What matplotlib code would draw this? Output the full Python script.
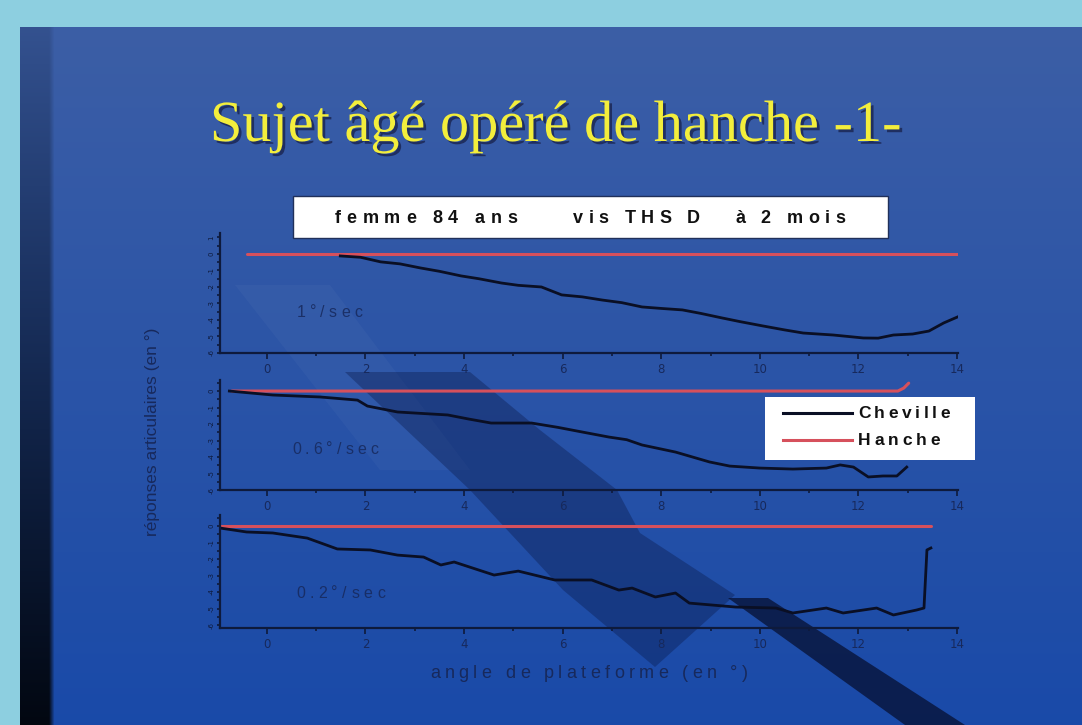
import numpy as np
import matplotlib
matplotlib.use("Agg")
import matplotlib.pyplot as plt
from matplotlib.patches import Polygon, Rectangle
from matplotlib.font_manager import FontProperties
import matplotlib.patheffects as pe

W, H = 1082, 725

# textes
title = "Sujet âgé opéré de hanche -1-"
header_parts = ["femme 84 ans", "vis THS D", "à 2 mois"]
speeds = ["1°/sec", "0.6°/sec", "0.2°/sec"]
xlabel = "angle de plateforme (en °)"
ylabel = "réponses articulaires (en °)"
legend_labels = ["Cheville", "Hanche"]
x_ticks = [0, 2, 4, 6, 8, 10, 12, 14]

# 1°/sec
cheville_x_1 = [1.49, 1.9, 2.31, 2.7, 3.12, 3.5, 3.94, 4.3, 4.76, 5.1, 5.57, 5.98, 6.4, 6.8, 7.2, 7.61,
                8.0, 8.43, 8.8, 9.24, 9.6, 10.06, 10.5, 10.88, 11.49, 12.1, 12.4, 12.71, 13.1, 13.43, 13.73, 14.1]
cheville_y_1 = [-0.12, -0.2, -0.48, -0.6, -0.85, -1.05, -1.33, -1.5, -1.76, -1.9, -2.0, -2.48, -2.6, -2.79, -2.95, -3.21,
                -3.3, -3.39, -3.6, -3.88, -4.1, -4.36, -4.6, -4.79, -4.91, -5.09, -5.1, -4.91, -4.85, -4.67, -4.18, -3.7]
hanche_x_1 = [-0.4, 14.05]
hanche_y_1 = [0.0, 0.0]

# 0.6°/sec
cheville_x_2 = [-0.76, 0.12, 1.08, 1.84, 2.04, 2.65, 3.1, 3.67, 4.1, 4.55, 5.37, 5.9, 6.39, 6.94, 7.3, 7.61,
                8.29, 8.98, 9.39, 10.0, 10.67, 11.35, 11.63, 11.9, 12.2, 12.5, 12.78, 12.98]
cheville_y_2 = [0.0, -0.24, -0.36, -0.55, -0.91, -1.27, -1.35, -1.45, -1.7, -1.94, -1.94, -2.2, -2.48, -2.79, -2.95, -3.27,
                -3.7, -4.3, -4.55, -4.67, -4.73, -4.67, -4.48, -4.61, -5.21, -5.15, -5.15, -4.61]
hanche_x_2 = [-0.71, 12.8, 12.92, 13.02]
hanche_y_2 = [0.0, 0.0, 0.18, 0.48]

# 0.2°/sec
cheville_x_3 = [-0.95, -0.41, 0.12, 0.82, 1.43, 2.1, 2.65, 3.18, 3.53, 3.8, 4.61, 5.1, 5.84, 6.59, 7.14, 7.41,
                7.88, 8.29, 8.57, 9.51, 10.33, 10.67, 11.35, 11.69, 12.37, 12.71, 13.18, 13.33, 13.39, 13.47]
cheville_y_3 = [-0.12, -0.36, -0.42, -0.73, -1.39, -1.45, -1.76, -1.88, -2.36, -2.18, -2.97, -2.73, -3.27, -3.27, -3.88, -3.76,
                -4.3, -4.06, -4.67, -4.91, -4.97, -5.27, -4.97, -5.27, -4.97, -5.39, -5.09, -4.97, -1.45, -1.33]
hanche_x_3 = [-0.95, 13.47]
hanche_y_3 = [0.0, 0.0]

cheville = [(cheville_x_1, cheville_y_1), (cheville_x_2, cheville_y_2), (cheville_x_3, cheville_y_3)]
hanche = [(hanche_x_1, hanche_y_1), (hanche_x_2, hanche_y_2), (hanche_x_3, hanche_y_3)]

# cadres des panneaux en pixels (gauche, haut, droite, bas) et limites y
panels = [(220, 233, 958, 353), (220, 380, 958, 490), (220, 515, 958, 628)]
ylims = [(-6.0, 1.27), (-6.0, 0.67), (-6.18, 0.67)]
speed_span = [(297, 362, 312), (292, 378, 449), (296, 385, 593)]

navy = "#0e1a3c"
txt_dark = "#17295c"
red = "#d6505c"
black = "#0a0f24"


def fig_rect(l, t, r, b):
    return [l / W, 1 - b / H, (r - l) / W, (b - t) / H]


fig = plt.figure(figsize=(W / 100, H / 100), dpi=100, facecolor="#8dcfe0")
renderer = fig.canvas.get_renderer()


def text_w(s, fp):
    # largeur en pixels, espaces de fin compris
    w1 = renderer.get_text_width_height_descent(s + "|", fp, ismath=False)[0]
    w0 = renderer.get_text_width_height_descent("|", fp, ismath=False)[0]
    return w1 - w0


def spaced_text(ax, x0, x1, y, s, fp, color, **kw):
    # texte espacé lettre par lettre entre x0 et x1 (pixels)
    full = text_w(s, fp)
    track = max((x1 - x0 - full) / max(len(s) - 1, 1), 0)
    for i, ch in enumerate(s):
        if ch == " ":
            continue
        x = x0 + text_w(s[:i], fp) + i * track
        ax.text(x, y, ch, ha="left", va="center", fontproperties=fp, color=color, **kw)


# fond de la diapositive
bg = fig.add_axes([0, 0, 1, 1], zorder=-10)
bg.set_xlim(0, W)
bg.set_ylim(H, 0)
bg.axis("off")
rows = np.linspace(0, 1, 300)[:, None, None]
top_c = np.array([0.235, 0.37, 0.65])
bot_c = np.array([0.10, 0.29, 0.66])
img = top_c * (1 - rows) + bot_c * rows
img = np.repeat(img, 200, axis=1)
cols = np.arange(200) / 199 * (W - 20) + 20
edge = (cols < 48)[None, :, None] * (0.15 + 0.85 * rows)
img = img * (1 - edge * 0.9)
bg.imshow(img, extent=[20, W, H, 27], aspect="auto", interpolation="bilinear")

# bandes diagonales (effet de lumière)
bg.add_patch(Polygon([(235, 285), (330, 285), (470, 470), (380, 470)], closed=True,
                     facecolor="white", alpha=0.03, lw=0))
bg.add_patch(Polygon([(345, 372), (470, 372), (540, 430), (617, 490), (640, 533), (735, 595),
                      (655, 667), (563, 590), (470, 490)], closed=True,
                     facecolor="#06103a", alpha=0.32, lw=0))
bg.add_patch(Polygon([(728, 598), (768, 598), (965, 725), (905, 725)], closed=True,
                     facecolor="#050c2a", alpha=0.7, lw=0))

# titre
fig.text(556 / W, 1 - 127 / H, title, ha="center", va="center", fontsize=42,
         family="Liberation Serif", color="#f3ee3c",
         path_effects=[pe.withSimplePatchShadow(offset=(2, -2), shadow_rgbFace="#1a2450", alpha=0.8)])

# cartouche
bold_fp = FontProperties(family="Liberation Sans", weight="bold", size=13)
bg.add_patch(Rectangle((293, 196), 595, 42, facecolor="white", edgecolor="#20305a", lw=1))
for (x0, x1), s in zip([(335, 517), (573, 700), (735, 845)], header_parts):
    spaced_text(bg, x0, x1, 218, s, bold_fp, "#111111")

speed_fp = FontProperties(family="Liberation Sans", size=11.5)
for i, (l, t, r, b) in enumerate(panels):
    ax = fig.add_axes(fig_rect(l, t, r, b))
    ax.set_facecolor("none")
    hx, hy = hanche[i]
    cx, cy = cheville[i]
    ax.plot(hx, hy, color=red, lw=2.2, solid_capstyle="round")
    ax.plot(cx, cy, color=black, lw=2.0)
    ax.set_xlim(-0.95, 14.02)
    ax.set_ylim(*ylims[i])
    for s in ["top", "right"]:
        ax.spines[s].set_visible(False)
    for s in ["left", "bottom"]:
        ax.spines[s].set_color(navy)
        ax.spines[s].set_linewidth(1.6)
    ax.set_xticks(x_ticks)
    ax.set_xticks(np.arange(1, 14, 2), minor=True)
    ax.set_xticklabels([str(v) for v in x_ticks], fontsize=8.5, color=txt_dark)
    yt = np.arange(np.ceil(ylims[i][0]), ylims[i][1], 1.0)
    ax.set_yticks(yt)
    ax.set_yticks(np.arange(np.ceil(ylims[i][0]) + 0.5, ylims[i][1], 1.0), minor=True)
    ax.set_yticklabels([f"{v:.0f}" for v in yt], fontsize=5, color=navy, rotation=90, va="center")
    ax.tick_params(axis="both", which="both", color=navy, width=1.2, direction="out")
    ax.tick_params(axis="x", which="major", length=4, pad=3)
    ax.tick_params(axis="x", which="minor", length=2)
    ax.tick_params(axis="y", which="both", length=2.5, pad=1.5)
    sx0, sx1, sy = speed_span[i]
    spaced_text(bg, sx0, sx1, sy, speeds[i], speed_fp, txt_dark, alpha=0.85)

# axes communs
bg.text(153, 432, ylabel, ha="center", va="center", rotation=90, fontsize=12.5,
        family="Liberation Sans", color=txt_dark)
xl_fp = FontProperties(family="Liberation Sans", size=13)
spaced_text(bg, 430, 748, 673, xlabel, xl_fp, txt_dark)

# légende
bg.add_patch(Rectangle((765, 397), 210, 63, facecolor="white", edgecolor="none"))
bg.plot([783, 852], [413, 413], color=black, lw=2.2)
bg.plot([783, 852], [440, 440], color=red, lw=2.2)
leg_fp = FontProperties(family="Liberation Sans", weight="bold", size=12.5)
spaced_text(bg, 858, 950, 413, legend_labels[0], leg_fp, "#111111")
spaced_text(bg, 858, 940, 440, legend_labels[1], leg_fp, "#111111")

fig.savefig("out.png", dpi=100, facecolor=fig.get_facecolor())
